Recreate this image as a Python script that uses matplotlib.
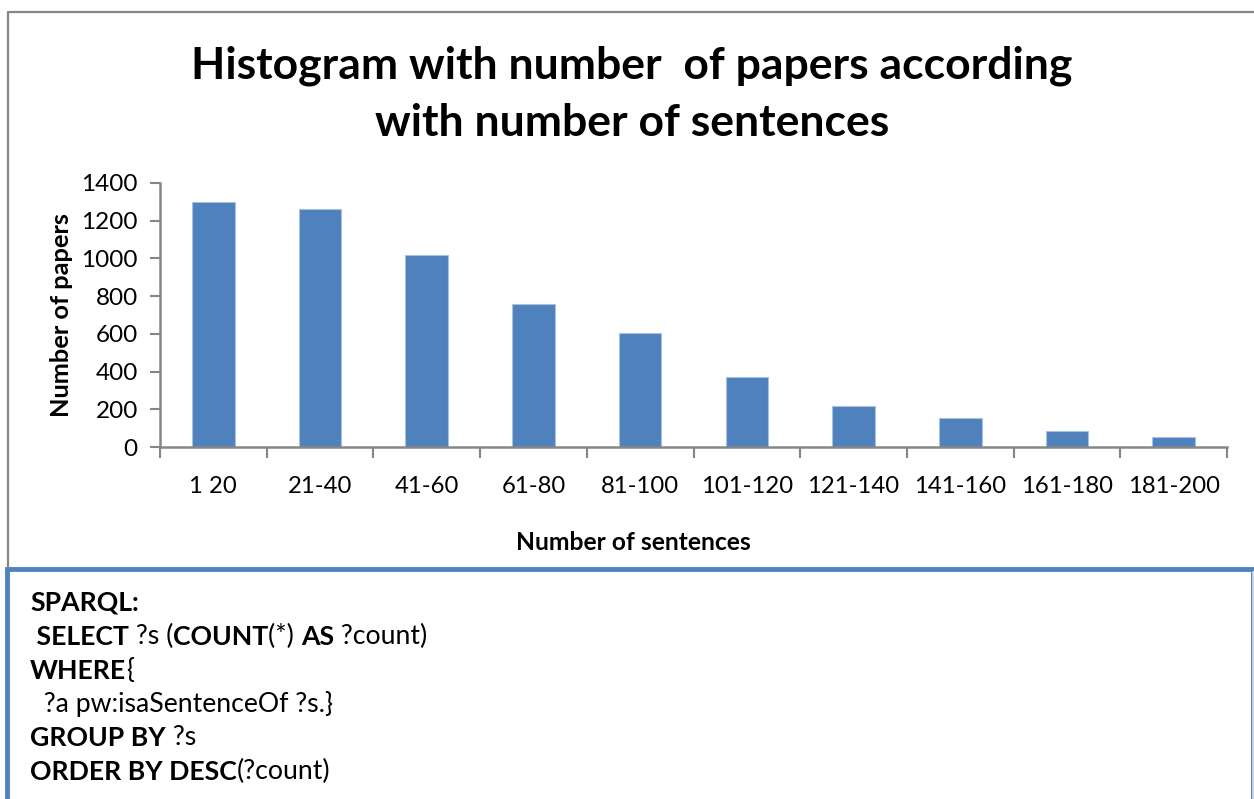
import matplotlib.pyplot as plt
from matplotlib.patches import Rectangle
from matplotlib.lines import Line2D
import numpy as np

plt.rcParams['font.family'] = ['Lato', 'DejaVu Sans']

# sentence ranges and paper counts per range
ranges = ['1 20', '21-40', '41-60', '61-80', '81-100', '101-120',
          '121-140', '141-160', '161-180', '181-200']
papers = [1300, 1260, 1020, 760, 605, 370, 220, 155, 88, 55]
yticks = [0, 200, 400, 600, 800, 1000, 1200, 1400]

# query shown under the chart: (text, bold) pieces per line
query = [
    [('SPARQL:', True)],
    [(' SELECT', True), (' ?s (', False), ('COUNT', True), ('(*) ', False),
     ('AS', True), (' ?count)', False)],
    [('WHERE', True), ('{', False)],
    [('  ?a pw:isaSentenceOf ?s.}', False)],
    [('GROUP BY', True), (' ?s', False)],
    [('ORDER BY DESC', True), ('(?count)', False)],
]

W, H = 1254, 799
fig = plt.figure(figsize=(W / 100, H / 100), dpi=100)
ax = fig.add_axes([160 / W, 1 - 447.3 / H, (1227 - 160) / W, (447.3 - 182.7) / H])

grey = '#868686'
blue = '#4F81BD'
x = np.arange(len(ranges))
ax.bar(x, papers, width=0.4, color=blue, edgecolor='#A9C1E0', linewidth=0.8)

ax.set_xlim(-0.5, len(ranges) - 0.5)
ax.set_ylim(0, 1400)
ax.set_yticks(yticks)
ax.tick_params(axis='y', direction='out', length=7, width=1.5, color=grey,
               labelsize=17.5, pad=9)
ax.set_xticks(x)
ax.set_xticklabels(ranges)
ax.tick_params(axis='x', length=0, labelsize=17.2, pad=21)
ax.set_xticks(np.arange(-0.5, len(ranges)), minor=True)
ax.tick_params(axis='x', which='minor', direction='out', length=8, width=1.5,
               color=grey)
for side in ['top', 'right']:
    ax.spines[side].set_visible(False)
for side in ['left', 'bottom']:
    ax.spines[side].set_color(grey)
    ax.spines[side].set_linewidth(1.8)

ax.set_ylabel('Number of papers', fontsize=18.3, fontweight='bold', labelpad=6)
fig.text(633 / W, 1 - 542 / H, 'Number of sentences', fontsize=17.7,
         fontweight='bold', ha='center', va='center')

fig.text(632 / W, 1 - 66 / H, 'Histogram with number  of papers according',
         fontsize=32, fontweight='bold', ha='center', va='center')
fig.text(632 / W, 1 - 123 / H, 'with number of sentences',
         fontsize=32, fontweight='bold', ha='center', va='center')

# chart frame and query box
fig.add_artist(Line2D([8 / W, 8 / W, 1.0], [1 - 568 / H, 1 - 12 / H, 1 - 12 / H],
                      color=grey, lw=1.6, transform=fig.transFigure))
fig.add_artist(Rectangle((7 / W, -0.01), (1253 - 7) / W, 1.01 - 569 / H,
                         transform=fig.transFigure, fill=False,
                         edgecolor=blue, lw=3.5))
fig.add_artist(Line2D([1253 / W, 1253 / W], [0, 1 - 572 / H], color='#C9D7EA',
                      lw=2, transform=fig.transFigure))

y0 = 1 - 603 / H
for i, line in enumerate(query):
    prev = None
    for seg, bold in line:
        kw = dict(fontsize=19.2, fontweight='bold' if bold else 'normal',
                  ha='left')
        if prev is None:
            prev = fig.text(30 / W, y0 - i * 33.8 / H, seg, va='center', **kw)
        else:
            prev = plt.annotate(seg, xy=(1, 0), xycoords=prev, va='bottom',
                                annotation_clip=False, **kw)

fig.savefig('out.png', dpi=100)
